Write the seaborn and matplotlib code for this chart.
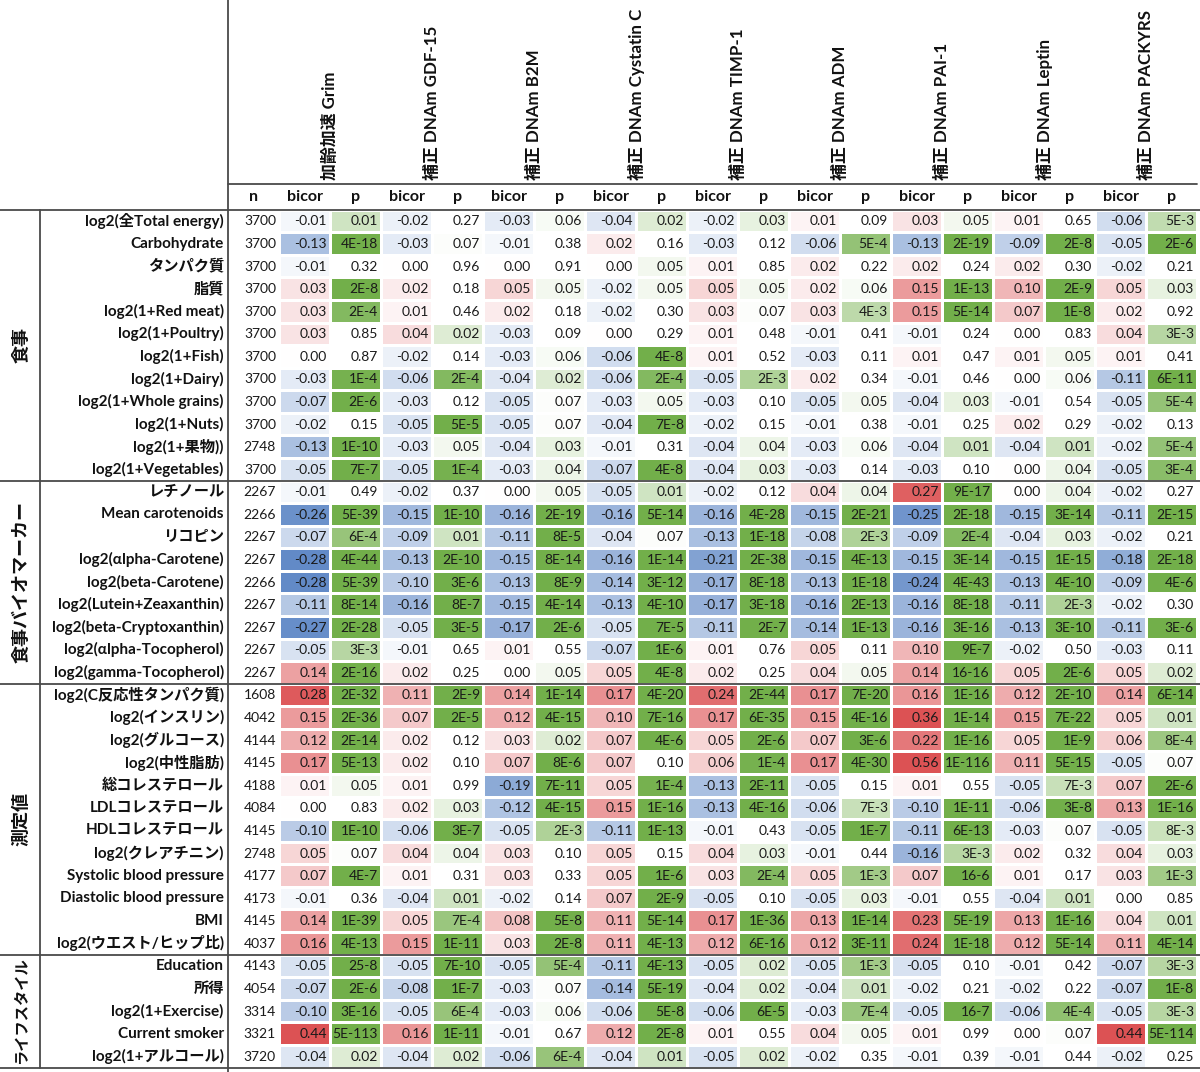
import numpy as np
import pandas as pd
import matplotlib
matplotlib.use("Agg")
import matplotlib.pyplot as plt
import matplotlib.transforms as mtransforms
import seaborn as sns
from matplotlib.colors import LinearSegmentedColormap

sns.set_theme(style="white")
plt.rcParams["font.family"] = ["Lato", "Noto Sans CJK JP", "DejaVu Sans"]
plt.rcParams["axes.unicode_minus"] = False

# 行ラベル
rows = [
    "log2(全Total energy)", "Carbohydrate", "タンパク質", "脂質", "log2(1+Red meat)",
    "log2(1+Poultry)", "log2(1+Fish)", "log2(1+Dairy)", "log2(1+Whole grains)",
    "log2(1+Nuts)", "log2(1+果物))", "log2(1+Vegetables)",
    "レチノール", "Mean carotenoids", "リコピン", "log2(αlpha-Carotene)",
    "log2(beta-Carotene)", "log2(Lutein+Zeaxanthin)", "log2(beta-Cryptoxanthin)",
    "log2(αlpha-Tocopherol)", "log2(gamma-Tocopherol)",
    "log2(C反応性タンパク質)", "log2(インスリン)", "log2(グルコース)", "log2(中性脂肪)",
    "総コレステロール", "LDLコレステロール", "HDLコレステロール", "log2(クレアチニン)",
    "Systolic blood pressure", "Diastolic blood pressure", "BMI", "log2(ウエスト/ヒップ比)",
    "Education", "所得", "log2(1+Exercise)", "Current smoker", "log2(1+アルコール)",
]
groups = ["食事", "食事バイオマーカー", "測定値", "ライフスタイル"]
group_sizes = [12, 9, 12, 5]

n_obs = [3700, 3700, 3700, 3700, 3700, 3700, 3700, 3700, 3700, 3700, 2748, 3700,
         2267, 2266, 2267, 2267, 2266, 2267, 2267, 2267, 2267,
         1608, 4042, 4144, 4145, 4188, 4084, 4145, 2748, 4177, 4173, 4145, 4037,
         4143, 4054, 3314, 3321, 3720]

measures = ["加齢加速 Grim", "補正 DNAm GDF-15", "補正 DNAm B2M", "補正 DNAm Cystatin C",
            "補正 DNAm TIMP-1", "補正 DNAm ADM", "補正 DNAm PAI-1", "補正 DNAm Leptin",
            "補正 DNAm PACKYRS"]

grim_r = [-0.01, -0.13, -0.01, 0.03, 0.03, 0.03, 0.00, -0.03, -0.07, -0.02, -0.13, -0.05,
          -0.01, -0.26, -0.07, -0.28, -0.28, -0.11, -0.27, -0.05, 0.14,
          0.28, 0.15, 0.12, 0.17, 0.01, 0.00, -0.10, 0.05, 0.07, -0.01, 0.14, 0.16,
          -0.05, -0.07, -0.10, 0.44, -0.04]
grim_p = ["0.01", "4E-18", "0.32", "2E-8", "2E-4", "0.85", "0.87", "1E-4", "2E-6", "0.15", "1E-10", "7E-7",
          "0.49", "5E-39", "6E-4", "4E-44", "5E-39", "8E-14", "2E-28", "3E-3", "2E-16",
          "2E-32", "2E-36", "2E-14", "5E-13", "0.05", "0.83", "1E-10", "0.07", "4E-7", "0.36", "1E-39", "4E-13",
          "25-8", "2E-6", "3E-16", "5E-113", "0.02"]

gdf15_r = [-0.02, -0.03, 0.00, 0.02, 0.01, 0.04, -0.02, -0.06, -0.03, -0.05, -0.03, -0.05,
           -0.02, -0.15, -0.09, -0.13, -0.10, -0.16, -0.05, -0.01, 0.02,
           0.11, 0.07, 0.02, 0.02, 0.01, 0.02, -0.06, 0.04, 0.01, -0.04, 0.05, 0.15,
           -0.05, -0.08, -0.05, 0.16, -0.04]
gdf15_p = ["0.27", "0.07", "0.96", "0.18", "0.46", "0.02", "0.14", "2E-4", "0.12", "5E-5", "0.05", "1E-4",
           "0.37", "1E-10", "0.01", "2E-10", "3E-6", "8E-7", "3E-5", "0.65", "0.25",
           "2E-9", "2E-5", "0.12", "0.10", "0.99", "0.03", "3E-7", "0.04", "0.31", "0.01", "7E-4", "1E-11",
           "7E-10", "1E-7", "6E-4", "1E-11", "0.02"]

b2m_r = [-0.03, -0.01, 0.00, 0.05, 0.02, -0.03, -0.03, -0.04, -0.05, -0.05, -0.04, -0.03,
         0.00, -0.16, -0.11, -0.15, -0.13, -0.15, -0.17, 0.01, 0.00,
         0.14, 0.12, 0.03, 0.07, -0.19, -0.12, -0.05, 0.03, 0.03, -0.02, 0.08, 0.03,
         -0.05, -0.03, -0.03, -0.01, -0.06]
b2m_p = ["0.06", "0.38", "0.91", "0.05", "0.18", "0.09", "0.06", "0.02", "0.07", "0.07", "0.03", "0.04",
         "0.05", "2E-19", "8E-5", "8E-14", "8E-9", "4E-14", "2E-6", "0.55", "0.05",
         "1E-14", "4E-15", "0.02", "8E-6", "7E-11", "4E-15", "2E-3", "0.10", "0.33", "0.14", "5E-8", "2E-8",
         "5E-4", "0.07", "0.06", "0.67", "6E-4"]

cys_r = [-0.04, 0.02, 0.00, -0.02, -0.02, 0.00, -0.06, -0.06, -0.03, -0.04, -0.01, -0.07,
         -0.05, -0.16, -0.04, -0.16, -0.14, -0.13, -0.05, -0.07, 0.05,
         0.17, 0.10, 0.07, 0.07, 0.05, 0.15, -0.11, 0.05, 0.05, 0.07, 0.11, 0.11,
         -0.11, -0.14, -0.06, 0.12, -0.04]
cys_p = ["0.02", "0.16", "0.05", "0.05", "0.30", "0.29", "4E-8", "2E-4", "0.05", "7E-8", "0.31", "4E-8",
         "0.01", "5E-14", "0.07", "1E-14", "3E-12", "4E-10", "7E-5", "1E-6", "4E-8",
         "4E-20", "7E-16", "4E-6", "0.10", "1E-4", "1E-16", "1E-13", "0.15", "1E-6", "2E-9", "5E-14", "4E-13",
         "4E-13", "5E-19", "5E-8", "2E-8", "0.01"]

timp1_r = [-0.02, -0.03, 0.01, 0.05, 0.03, 0.01, 0.01, -0.05, -0.03, -0.02, -0.04, -0.04,
           -0.02, -0.16, -0.13, -0.21, -0.17, -0.17, -0.11, 0.01, 0.02,
           0.24, 0.17, 0.05, 0.06, -0.13, -0.13, -0.01, 0.04, 0.03, -0.05, 0.17, 0.12,
           -0.05, -0.04, -0.06, 0.01, -0.05]
timp1_p = ["0.03", "0.12", "0.85", "0.05", "0.07", "0.48", "0.52", "2E-3", "0.10", "0.15", "0.04", "0.03",
           "0.12", "4E-28", "1E-18", "2E-38", "8E-18", "3E-18", "2E-7", "0.76", "0.25",
           "2E-44", "6E-35", "2E-6", "1E-4", "2E-11", "4E-16", "0.43", "0.03", "2E-4", "0.10", "1E-36", "6E-16",
           "0.02", "0.02", "6E-5", "0.55", "0.02"]

adm_r = [0.01, -0.06, 0.02, 0.02, 0.03, -0.01, -0.03, 0.02, -0.05, -0.01, -0.03, -0.03,
         0.04, -0.15, -0.08, -0.15, -0.13, -0.16, -0.14, 0.05, 0.04,
         0.17, 0.15, 0.07, 0.17, -0.05, -0.06, -0.05, -0.01, 0.05, -0.05, 0.13, 0.12,
         -0.05, -0.04, -0.03, 0.04, -0.02]
adm_p = ["0.09", "5E-4", "0.22", "0.06", "4E-3", "0.41", "0.11", "0.34", "0.05", "0.38", "0.06", "0.14",
         "0.04", "2E-21", "2E-3", "4E-13", "1E-18", "2E-13", "1E-13", "0.11", "0.05",
         "7E-20", "4E-16", "3E-6", "4E-30", "0.15", "7E-3", "1E-7", "0.44", "1E-3", "0.03", "1E-14", "3E-11",
         "1E-3", "0.01", "7E-4", "0.05", "0.35"]

pai1_r = [0.03, -0.13, 0.02, 0.15, 0.15, -0.01, 0.01, -0.01, -0.04, -0.01, -0.04, -0.03,
          0.27, -0.25, -0.09, -0.15, -0.24, -0.16, -0.16, 0.10, 0.14,
          0.16, 0.36, 0.22, 0.56, 0.01, -0.10, -0.11, -0.16, 0.07, -0.01, 0.23, 0.24,
          -0.05, -0.02, -0.05, 0.01, -0.01]
pai1_p = ["0.05", "2E-19", "0.24", "1E-13", "5E-14", "0.24", "0.47", "0.46", "0.03", "0.25", "0.01", "0.10",
          "9E-17", "2E-18", "2E-4", "3E-14", "4E-43", "8E-18", "3E-16", "9E-7", "16-16",
          "1E-16", "1E-14", "1E-16", "1E-116", "0.55", "1E-11", "6E-13", "3E-3", "16-6", "0.55", "5E-19", "1E-18",
          "0.10", "0.21", "16-7", "0.99", "0.39"]

leptin_r = [0.01, -0.09, 0.02, 0.10, 0.07, 0.00, 0.01, 0.00, -0.01, 0.02, -0.04, 0.00,
            0.00, -0.15, -0.04, -0.15, -0.13, -0.11, -0.13, -0.02, 0.05,
            0.12, 0.15, 0.05, 0.11, -0.05, -0.06, -0.03, 0.02, 0.01, -0.04, 0.13, 0.12,
            -0.01, -0.02, -0.06, 0.00, -0.01]
leptin_p = ["0.65", "2E-8", "0.30", "2E-9", "1E-8", "0.83", "0.05", "0.06", "0.54", "0.29", "0.01", "0.04",
            "0.04", "3E-14", "0.03", "1E-15", "4E-10", "2E-3", "3E-10", "0.50", "2E-6",
            "2E-10", "7E-22", "1E-9", "5E-15", "7E-3", "3E-8", "0.07", "0.32", "0.17", "0.01", "1E-16", "5E-14",
            "0.42", "0.22", "4E-4", "0.07", "0.44"]

packyrs_r = [-0.06, -0.05, -0.02, 0.05, 0.02, 0.04, 0.01, -0.11, -0.05, -0.02, -0.02, -0.05,
             -0.02, -0.11, -0.02, -0.18, -0.09, -0.02, -0.11, -0.03, 0.05,
             0.14, 0.05, 0.06, -0.05, 0.07, 0.13, -0.05, 0.04, 0.03, 0.00, 0.04, 0.11,
             -0.07, -0.07, -0.05, 0.44, -0.02]
packyrs_p = ["5E-3", "2E-6", "0.21", "0.03", "0.92", "3E-3", "0.41", "6E-11", "5E-4", "0.13", "5E-4", "3E-4",
             "0.27", "2E-15", "0.21", "2E-18", "4E-6", "0.30", "3E-6", "0.11", "0.02",
             "6E-14", "0.01", "8E-4", "0.07", "2E-6", "1E-16", "8E-3", "0.03", "1E-3", "0.85", "0.01", "4E-14",
             "3E-3", "1E-8", "3E-3", "5E-114", "0.25"]

bicor_cols = [grim_r, gdf15_r, b2m_r, cys_r, timp1_r, adm_r, pai1_r, leptin_r, packyrs_r]
p_cols = [grim_p, gdf15_p, b2m_p, cys_p, timp1_p, adm_p, pai1_p, leptin_p, packyrs_p]


def p_value(s):
    # "16-16" のような表記は 1E-16 として読む
    if "E" in s or "." in s:
        return float(s)
    mant, ex = s.split("-")
    return float(mant[0] + "E-" + ex)


n_rows = len(rows)
n_cols = 1 + 2 * len(measures)
col_names = ["n"] + [f"{m}|{k}" for m in measures for k in ("bicor", "p")]

r_color = np.full((n_rows, n_cols), np.nan)
p_color = np.full((n_rows, n_cols), np.nan)
labels = np.empty((n_rows, n_cols), dtype=object)
labels[:, 0] = [str(v) for v in n_obs]

for k, (rv, pv) in enumerate(zip(bicor_cols, p_cols)):
    r = np.array(rv)
    # 青-白-赤 のカラースケール (|bicor| 0.3 で飽和)
    sc = np.clip(np.abs(r) / 0.3, 0, 1) ** 0.8
    r_color[:, 1 + 2 * k] = np.sign(r) * sc
    lp = -np.log10([p_value(s) for s in pv])
    p_color[:, 2 + 2 * k] = np.clip((lp - 1.1) / 3.0, 0, 1) ** 0.9
    labels[:, 1 + 2 * k] = [f"{v:.2f}" for v in rv]
    labels[:, 2 + 2 * k] = pv

r_df = pd.DataFrame(r_color, index=rows, columns=col_names)
p_df = pd.DataFrame(p_color, index=rows, columns=col_names)

cmap_r = LinearSegmentedColormap.from_list("bicor", ["#5A84C4", "#FFFFFF", "#DC5254"])
cmap_p = LinearSegmentedColormap.from_list("pval", ["#FFFFFF", "#72AF4A"])

fig = plt.figure(figsize=(12, 10.72), dpi=100)
ax = fig.add_axes([228 / 1200, 4.5 / 1072, 969 / 1200, 857.8 / 1072])

sns.heatmap(r_df, mask=r_df.isna(), cmap=cmap_r, vmin=-1, vmax=1, cbar=False,
            linewidths=0.8, linecolor="white", ax=ax, xticklabels=False, yticklabels=True)
sns.heatmap(p_df, mask=p_df.isna(), cmap=cmap_p, vmin=0, vmax=1, cbar=False,
            linewidths=0.8, linecolor="white", ax=ax, xticklabels=False, yticklabels=True)

ax.set_yticks(np.arange(n_rows) + 0.5)
ax.set_yticklabels(rows, fontsize=11, fontweight="bold", rotation=0, color="#111111")
ax.tick_params(axis="y", length=0, pad=3)
ax.set_xlabel("")
ax.set_ylabel("")

for i in range(n_rows):
    for j in range(n_cols):
        ax.text(j + 0.94, i + 0.52, labels[i, j], ha="right", va="center",
                fontsize=10, color="#1a1a1a")

# 見出し
for k, m in enumerate(measures):
    ax.text(2 * k + 2, -1.32, m, rotation=90, ha="center", va="bottom",
            fontsize=12.2, fontweight="bold", color="#111111")
    ax.text(2 * k + 1.5, -0.56, "bicor", ha="center", va="center",
            fontsize=11.5, fontweight="bold", color="#111111")
    ax.text(2 * k + 2.5, -0.56, "p", ha="center", va="center",
            fontsize=11.5, fontweight="bold", color="#111111")
ax.text(0.5, -0.56, "n", ha="center", va="center", fontsize=11.5, fontweight="bold", color="#111111")

# 罫線とグループラベル
fig_y = mtransforms.blended_transform_factory(fig.transFigure, ax.transData)
axes_y = mtransforms.blended_transform_factory(ax.transAxes, ax.transData)
data_x = mtransforms.blended_transform_factory(ax.transData, fig.transFigure)
line_kw = dict(color="#4a4a4a", lw=1.3, clip_on=False)

bounds = np.concatenate([[0], np.cumsum(group_sizes)])
for b in bounds:
    ax.plot([0, 1], [b, b], transform=fig_y, **line_kw)
ax.plot([0, 1], [-1.12, -1.12], transform=axes_y, **line_kw)
ax.plot([0, 0], [0, 1], transform=data_x, **line_kw)
ax.plot([40 / 1200, 40 / 1200], [0, n_rows], transform=fig_y, **line_kw)

group_font = [13, 13, 13, 11]
for g, lo, hi, fs in zip(groups, bounds[:-1], bounds[1:], group_font):
    ax.text(21 / 1200, (lo + hi) / 2, g, rotation=90, ha="center", va="center",
            fontsize=fs, fontweight="bold", color="#111111", transform=fig_y)

fig.savefig("out.png", dpi=100)
